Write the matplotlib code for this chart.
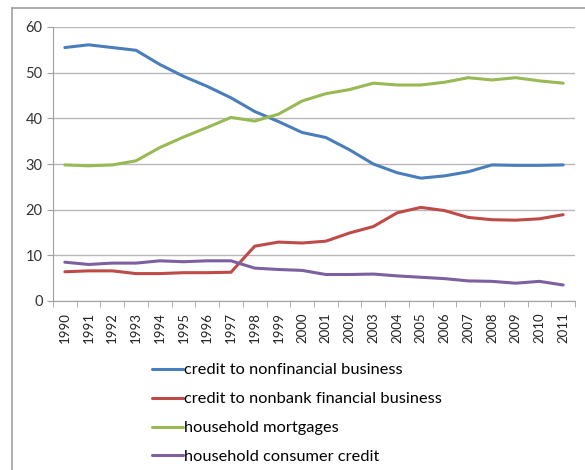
import matplotlib

matplotlib.use("Agg")
import matplotlib.pyplot as plt
from matplotlib.lines import Line2D

years = [str(y) for y in range(1990, 2012)]

nonfin_business = [55.5, 56.1, 55.5, 54.9, 51.8, 49.2, 47.0, 44.5, 41.5, 39.3, 36.9,
                   35.8, 33.1, 30.0, 28.1, 26.9, 27.4, 28.3, 29.8, 29.7, 29.7, 29.8]
nonbank_fin_business = [6.4, 6.6, 6.6, 6.0, 6.0, 6.2, 6.2, 6.3, 12.0, 12.9, 12.7,
                        13.1, 14.9, 16.3, 19.3, 20.5, 19.8, 18.3, 17.8, 17.7, 18.0, 18.9]
mortgages = [29.8, 29.6, 29.8, 30.7, 33.6, 35.9, 38.0, 40.2, 39.4, 40.9, 43.8,
             45.4, 46.3, 47.7, 47.3, 47.3, 47.9, 48.9, 48.4, 48.9, 48.2, 47.7]
consumer_credit = [8.5, 8.0, 8.3, 8.3, 8.8, 8.6, 8.8, 8.8, 7.2, 6.9, 6.7,
                   5.8, 5.8, 5.9, 5.5, 5.2, 4.9, 4.4, 4.3, 3.9, 4.3, 3.5]

series = [
    ("credit to nonfinancial business", nonfin_business, "#4A7EBB"),
    ("credit to nonbank financial business", nonbank_fin_business, "#BE4B48"),
    ("household mortgages", mortgages, "#98B954"),
    ("household consumer credit", consumer_credit, "#7D60A0"),
]

plt.rcParams["font.family"] = ["Lato", "DejaVu Sans"]

fig = plt.figure(figsize=(5.85, 4.7), dpi=100)
fig.patch.set_facecolor("#FFFFFF")

# outer chart frame (left and top edges visible)
fig.add_artist(Line2D([12 / 585, 12 / 585], [0, 1 - 8 / 470], color="#A0A0A0", lw=1.2))
fig.add_artist(Line2D([12 / 585, 1], [1 - 8 / 470, 1 - 8 / 470], color="#A0A0A0", lw=1.2))

ax = fig.add_axes([53 / 585, 1 - 301 / 470, (575 - 53) / 585, (301 - 27) / 470])
x = list(range(len(years)))
for label, vals, color in series:
    ax.plot(x, vals, color=color, lw=2.2, label=label, solid_capstyle="round")

ax.set_xlim(-0.5, len(years) - 0.5)
ax.set_ylim(0, 60)
ax.set_yticks(range(0, 61, 10))
ax.set_xticks(x)
ax.set_xticklabels(years, rotation=90, fontsize=9.5, color="#222222")
ax.set_xticks([i - 0.5 for i in range(len(years) + 1)], minor=True)
ax.tick_params(axis="x", which="major", length=0, pad=8)
ax.tick_params(axis="x", which="minor", length=4, color="#A0A0A0")
ax.tick_params(axis="y", length=4, color="#A0A0A0", labelsize=10.5, labelcolor="#333333")
ax.yaxis.grid(True, color="#B8B8B8", lw=1)
ax.set_axisbelow(True)
for s in ("top", "right"):
    ax.spines[s].set_visible(False)
for s in ("left", "bottom"):
    ax.spines[s].set_color("#A0A0A0")

fig.legend(loc="upper left", bbox_to_anchor=(152 / 585, 1 - 363 / 470), frameon=False,
           fontsize=11.8, handlelength=1.9, handletextpad=0.05, labelspacing=0.88,
           borderaxespad=0, borderpad=0)

fig.savefig("out.png", dpi=100)
